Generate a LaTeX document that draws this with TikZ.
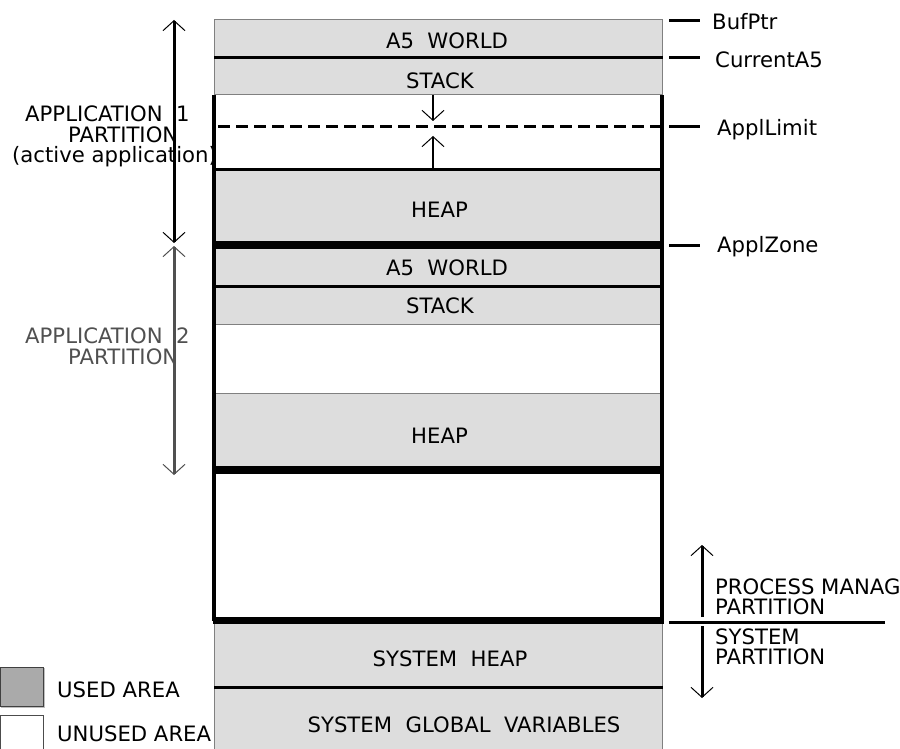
\documentclass[tikz,border=0pt]{standalone}
\usepackage{fontspec}
\setmainfont{DejaVu Sans}
\usetikzlibrary{arrows.meta}

\definecolor{usedfill}{HTML}{DDDDDD}
\definecolor{edgegray}{HTML}{808080}
\definecolor{appgray}{HTML}{505050}
\definecolor{legendfill}{HTML}{AAAAAA}

\begin{document}
\begin{tikzpicture}[x=1pt,y=-1pt,
  font=\fontsize{21.2}{21}\selectfont,
  txt/.style={inner sep=0pt},
  usedbox/.style={fill=usedfill,draw=edgegray,line width=1pt},
  rule/.style={line width=3pt},
  frame/.style={line width=3.2pt},
  bar/.style={line width=8pt},
  thinrule/.style={draw=edgegray,line width=1pt},
  barb/.tip={Straight Barb[length=10pt,width=22pt,line width=1pt]},
  dimline/.style={line width=3pt},
  tick/.style={line width=3pt}]

\useasboundingbox (0,0) rectangle (900,749);

% ---------- memory column: fills ----------
\filldraw[usedbox] (214,20) rectangle (662,58);
\filldraw[usedbox] (214,58) rectangle (662,95);
\fill[usedfill] (214,170) rectangle (662,245);
\fill[usedfill] (214,245) rectangle (662,324);
\fill[usedfill] (214,393) rectangle (662,470);
\filldraw[usedbox] (214,620) rectangle (662,687);
\filldraw[usedbox] (214,687) rectangle (662,760);

% ---------- memory column: borders and separators ----------
\draw[thinrule] (214,324) -- (662,324);
\draw[thinrule] (214,393) -- (662,393);
\draw[frame] (214,95) -- (214,621);
\draw[frame] (662,95) -- (662,621);
\draw[rule] (214,58) -- (663,58);
\draw[rule] (214,170) -- (663,170);
\draw[bar] (212.5,245) -- (663.5,245);
\draw[rule] (214,286) -- (663,286);
\draw[bar] (212.5,470) -- (663.5,470);
\draw[line width=7pt] (212.5,620.5) -- (663.5,620.5);
\draw[rule] (214,687) -- (663,687);
\draw[rule,dash pattern=on 12pt off 6pt] (218,127) -- (662,127);

% ---------- block labels ----------
\node[txt,anchor=base] (a5top)   at (447,49)  {A5~~WORLD};
\node[txt,anchor=base] (stktop)  at (440,89)  {STACK};
\node[txt,anchor=base] (heaptop) at (439.5,217) {HEAP};
\node[txt,anchor=base] (a5bot)   at (447,275) {A5~~WORLD};
\node[txt,anchor=base] (stkbot)  at (440,313) {STACK};
\node[txt,anchor=base] (heapbot) at (439.5,443) {HEAP};
\node[txt,anchor=base] (sysheap) at (450,666) {SYSTEM~~HEAP};
\node[txt,anchor=base] (sysglob) at (464,732) {SYSTEM~~GLOBAL~~VARIABLES};

% ---------- stack / heap growth arrows ----------
\coordinate (stkS) at (433,95);
\coordinate (stkE) at (433,121);
\coordinate (hpS)  at (433,170);
\coordinate (hpE)  at (433,136);
\draw[line width=2.6pt,-barb] (stkS) -- (stkE);
\draw[line width=2.6pt,-barb] (hpS) -- (hpE);

% ---------- pointer marks on the right ----------
\coordinate (tk1a) at (669,21);  \coordinate (tk1b) at (700,21);
\coordinate (tk2a) at (669,58);  \coordinate (tk2b) at (700,58);
\coordinate (tk3a) at (669,127); \coordinate (tk3b) at (700,127);
\coordinate (tk4a) at (669,245); \coordinate (tk4b) at (700,245);
\draw[tick] (tk1a) -- (tk1b);
\draw[tick] (tk2a) -- (tk2b);
\draw[tick] (tk3a) -- (tk3b);
\draw[tick] (tk4a) -- (tk4b);
\node[txt,anchor=base west] (bufptr)   at (712,30)  {BufPtr};
\node[txt,anchor=base west] (curA5)    at (715,68)  {CurrentA5};
\node[txt,anchor=base west] (appllim)  at (717,136) {ApplLimit};
\node[txt,anchor=base west] (applzone) at (717,252) {ApplZone};

% ---------- process manager / system split ----------
\coordinate (splitL) at (669,622);
\coordinate (splitR) at (885,622);
\draw[rule] (splitL) -- (splitR);
\coordinate (pmS) at (702,617);
\coordinate (pmE) at (702,545);
\coordinate (spS) at (702,626);
\coordinate (spE) at (702,698);
\draw[dimline,-barb] (pmS) -- (pmE);
\draw[dimline,-barb] (spS) -- (spE);
\node[txt,anchor=base west] (pm1) at (715,594) {PROCESS MANAG};
\node[txt,anchor=base west] (pm2) at (715,614) {PARTITION};
\node[txt,anchor=base west] (sp1) at (715,644) {SYSTEM};
\node[txt,anchor=base west] (sp2) at (715,664) {PARTITION};

% ---------- application partitions on the left ----------
\node[txt,anchor=base west] (ap1a) at (25,122) {APPLICATION~~1};
\node[txt,anchor=base west] (ap1b) at (68,143) {PARTITION};
\node[txt,anchor=base west] (ap1c) at (12,163) {(active application)};
\node[txt,anchor=base west,text=appgray] (ap2a) at (25,343) {APPLICATION~~2};
\node[txt,anchor=base west,text=appgray] (ap2b) at (68,364) {PARTITION};

\coordinate (ap1top) at (174,20);
\coordinate (ap1bot) at (174,243);
\coordinate (ap2top) at (174,246);
\coordinate (ap2bot) at (174,475);
\draw[dimline,barb-barb] (ap1bot) -- (ap1top);
\draw[dimline,draw=appgray,barb-barb] (ap2top) -- (ap2bot);

% ---------- legend ----------
\draw[line width=1pt,draw=black!25] (1,707.5) -- (44.5,707.5) -- (44.5,668);
\filldraw[fill=legendfill,draw=black!75,line width=1pt] (0.5,667.5) rectangle (43,706);
\draw[line width=1pt,draw=black!70] (0.5,760) -- (0.5,715.5) -- (43,715.5) -- (43,760);
\node[txt,anchor=base west] (usedlbl)   at (57,697) {USED AREA};
\node[txt,anchor=base west] (unusedlbl) at (57,741) {UNUSED AREA};

\end{tikzpicture}
\end{document}
